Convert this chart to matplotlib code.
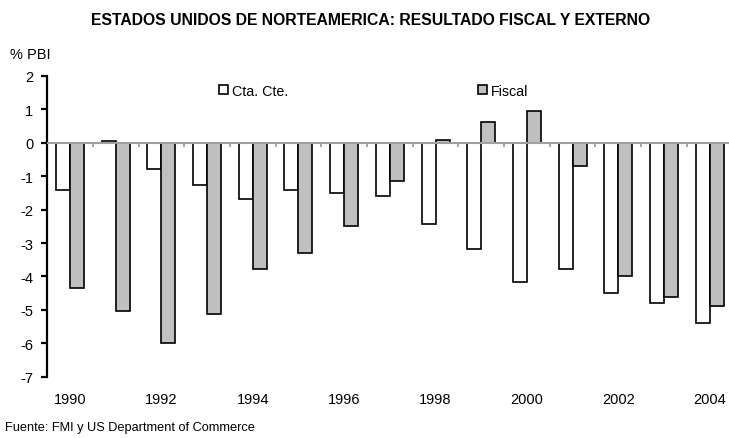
import numpy as np
import matplotlib
matplotlib.use('Agg')
import matplotlib.pyplot as plt
from matplotlib.patches import Patch

plt.rcParams['font.family'] = ['Liberation Sans', 'DejaVu Sans']
NARROW = ['Liberation Sans Narrow', 'Liberation Sans', 'DejaVu Sans']

years = list(range(1990, 2005))
cta_cte = [-1.40, 0.05, -0.78, -1.25, -1.68, -1.42, -1.51, -1.60,
           -2.43, -3.18, -4.18, -3.79, -4.48, -4.78, -5.38]
fiscal = [-4.35, -5.04, -5.99, -5.13, -3.79, -3.31, -2.50, -1.13,
          0.09, 0.61, 0.95, -0.69, -4.00, -4.61, -4.87]
yticks = list(range(-7, 3))
year_labels = [str(y) for y in years[::2]]

W, H = 729, 439
fig = plt.figure(figsize=(W / 100, H / 100), dpi=100)
# plot area in pixels: left spine 47, top (2) at 77, bottom (-7) at 378
left, right, top, bottom = 47.2, 732.5, 77.0, 377.7
ax = fig.add_axes([left / W, 1 - bottom / H, (right - left) / W, (bottom - top) / H])

x = np.arange(len(years))
w = 0.306
ax.bar(x - w / 2, cta_cte, w, color='white', edgecolor='black', linewidth=1.2, zorder=2)
ax.bar(x + w / 2, fiscal, w, color='#c0c0c0', edgecolor='black', linewidth=1.2, zorder=2)

# zero line with small category ticks
ax.axhline(0, color='#a0a0a0', linewidth=1.5, zorder=3)
ax.vlines(x[:-1] + 0.5, -0.13, 0, color='#a0a0a0', linewidth=1.3, zorder=3)

ax.set_xlim(-0.5, len(years) - 0.5)
ax.set_ylim(-7, 2)
ax.set_yticks(yticks)
ax.set_yticklabels([str(v) for v in yticks])
ax.set_xticks(x[::2])
ax.set_xticklabels(year_labels)

for s in ['top', 'right', 'bottom']:
    ax.spines[s].set_visible(False)
ax.spines['left'].set_linewidth(1.6)
ax.tick_params(axis='y', direction='out', length=4, width=1.6, labelsize=10.5, pad=6)
ax.tick_params(axis='x', length=0, labelsize=10.5, pad=11)

fs = 10.3
h1 = Patch(facecolor='white', edgecolor='black', linewidth=1.2)
h2 = Patch(facecolor='#c0c0c0', edgecolor='black', linewidth=1.2)
kw = dict(frameon=False, borderpad=0, borderaxespad=0, handlelength=0.65, handleheight=0.65,
          handletextpad=0.25, loc='center left', bbox_transform=fig.transFigure,
          prop={'family': NARROW, 'size': fs})
leg1 = ax.legend([h1], ['Cta. Cte.'], bbox_to_anchor=(219 / W, 1 - 91.5 / H), **kw)
ax.add_artist(leg1)
ax.legend([h2], ['Fiscal'], bbox_to_anchor=(478 / W, 1 - 91.5 / H), **kw)

fig.text(370.5 / W, 1 - 20.5 / H, 'ESTADOS UNIDOS DE NORTEAMERICA: RESULTADO FISCAL Y EXTERNO',
         ha='center', va='center', fontsize=11.3, fontweight='bold')
fig.text(10 / W, 1 - 55 / H, '% PBI', ha='left', va='center', fontsize=10.5)
fig.text(5 / W, 1 - 428 / H, 'Fuente: FMI y US Department of Commerce',
         ha='left', va='center', fontsize=9.2, family=NARROW)

fig.savefig('out.png', dpi=100)
